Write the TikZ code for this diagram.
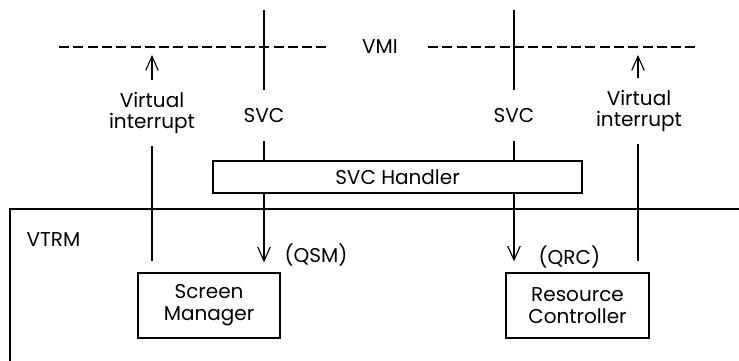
\documentclass[tikz,border=0pt]{standalone}
\usepackage{fontspec}
\setmainfont{Poppins}
\usetikzlibrary{arrows.meta}
\begin{document}
\begin{tikzpicture}[x=1pt,y=-1pt,line width=1.15pt,
  txt/.style={font=\fontsize{20}{20.5}\selectfont,inner sep=0pt,align=center},
  svclbl/.style={txt,text height=14pt,text depth=0pt,inner ysep=18pt},
  vilbl/.style={txt,inner ysep=12pt},
  box/.style={draw,txt,inner sep=0pt,font=\fontsize{20}{22}\selectfont},
  vmiline/.style={dash pattern=on 10pt off 4.3pt},
  tip/.style={-{Straight Barb[length=14pt,width=12.5pt,line width=1.15pt]}}]
\useasboundingbox (0,0) rectangle (739,361);

% VMI boundary
\coordinate (dLa) at (59,47);  \coordinate (dLb) at (330,47);
\coordinate (dRa) at (428,47); \coordinate (dRb) at (697,47);
\draw[vmiline] (dLa) -- (dLb);
\draw[vmiline] (dRa) -- (dRb);
\node[txt] (vmi) at (380,47) {VMI};

% VTRM frame
\coordinate (fr) at (739,209); \coordinate (fc) at (10,209); \coordinate (fb) at (10,361);
\draw (fr) -- (fc) -- (fb);
\node[txt,anchor=west] (vtrm) at (26,240) {VTRM};

% boxes
\node[box,minimum width=142pt,minimum height=65pt] (sm) at (209,305.5) {Screen\\Manager};
\node[box,minimum width=143pt,minimum height=65pt] (rc) at (577.5,305.5) {Resource\\Controller};
\node[box,minimum width=369pt,minimum height=32pt] (hdl) at (397.5,177) {SVC Handler};

% SVC calls
\node[svclbl] (svcL) at (264,115.5) {SVC};
\node[svclbl] (svcR) at (514,115.5) {SVC};
\coordinate (svcLtop) at (264,10);
\coordinate (svcRtop) at (514,10);
\draw (svcLtop) -- (svcL.north);
\draw (svcRtop) -- (svcR.north);
\draw (svcL.south) -- (hdl.north -| svcL.south);
\draw (svcR.south) -- (hdl.north -| svcR.south);
\draw[tip,shorten >=10pt] (hdl.south -| svcL.south) -- (sm.north -| svcL.south);
\draw[tip,shorten >=11pt] (hdl.south -| svcR.south) -- (rc.north -| svcR.south);
\node[txt,anchor=west] (qsm) at (284,255) {(QSM)};
\node[txt,anchor=west] (qrc) at (538,257) {(QRC)};

% virtual interrupts
\node[vilbl] (viL) at (152,113) {Virtual\\interrupt};
\node[vilbl] (viR) at (639,111) {Virtual\\interrupt};
\coordinate (viLtip) at (152,55);
\coordinate (viRtip) at (638,55);
\draw[tip] (viL.north) -- (viLtip);
\draw[tip] (viR.north -| viRtip) -- (viRtip);
\draw[shorten >=11pt] (viL.south) -- (sm.north -| viL.south);
\draw[shorten >=11pt] (viR.south -| viRtip) -- (rc.north -| viRtip);
\end{tikzpicture}
\end{document}
